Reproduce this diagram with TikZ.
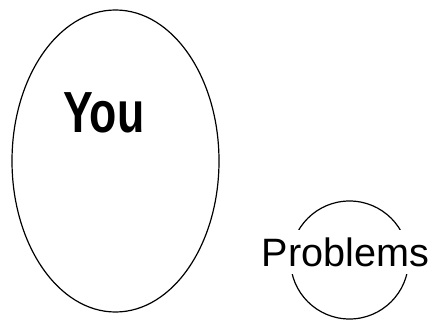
\documentclass[tikz,border=0pt]{standalone}
\usepackage{fontspec}
\setsansfont{Liberation Sans}
\usetikzlibrary{shapes.geometric}

\begin{document}
\begin{tikzpicture}[x=1pt, y=-1pt,
		blob/.style={draw, ellipse, line width=1.2pt, inner sep=0pt},
		bigword/.style={font=\sffamily\bfseries\fontsize{58}{58}\selectfont, xscale=0.77, transform shape, anchor=base, inner sep=0pt},
		smallword/.style={font=\sffamily\fontsize{39.6}{40}\selectfont, anchor=base, fill=white, inner xsep=0pt, inner ysep=7.5pt}]
	%Rahmen
	\useasboundingbox (0,0) rectangle (433,320);
	% Ellipse und Kreis
	\node[blob, minimum width=207pt, minimum height=302pt] (self) at (115.5,161) {};
	\node[blob, minimum size=118pt, circle] (trouble) at (349.5,260) {};
	% Beschriftung
	\node[bigword] (selflbl) at (104,133) {You};
	\node[smallword] (troublelbl) at (345.5,266) {Problems};
\end{tikzpicture}
\end{document}
